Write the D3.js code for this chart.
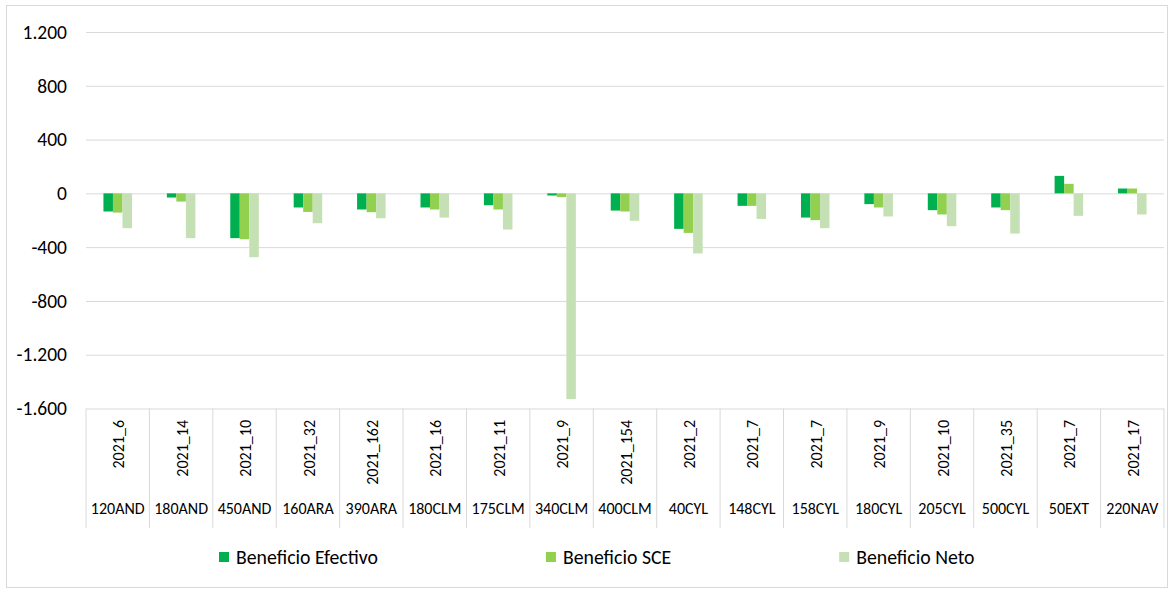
<!DOCTYPE html>
<html>
<head>
<meta charset="utf-8">
<script src="https://cdn.jsdelivr.net/npm/d3@7"></script>
<style>
  body { margin: 0; background: #fff; }
  svg { display: block; font-family: Carlito, Calibri, Lato, sans-serif; }
</style>
</head>
<body>
<div id="viz"></div>
<script>
// Plant names (outer category level) and offer codes (inner level)
const plants = ["120AND", "180AND", "450AND", "160ARA", "390ARA", "180CLM", "175CLM", "340CLM", "400CLM",
  "40CYL", "148CYL", "158CYL", "180CYL", "205CYL", "500CYL", "50EXT", "220NAV"];
const codes = ["2021_6", "2021_14", "2021_10", "2021_32", "2021_162", "2021_16", "2021_11", "2021_9", "2021_154",
  "2021_2", "2021_7", "2021_7", "2021_9", "2021_10", "2021_35", "2021_7", "2021_17"];

const seriesNames = ["Beneficio Efectivo", "Beneficio SCE", "Beneficio Neto"];
const efectivo = [-135, -31, -333, -105, -120, -105, -88, -16, -128, -264, -93, -180, -80, -125, -105, 130, 36];
const sce = [-143, -61, -341, -138, -140, -120, -120, -28, -135, -294, -93, -199, -105, -157, -125, 71, 36];
const neto = [-259, -333, -475, -222, -185, -180, -269, -1530, -204, -447, -190, -259, -172, -244, -299, -167, -157];

const yTicks = [-1600, -1200, -800, -400, 0, 400, 800, 1200];

const COLORS = ["#00B050", "#92D050", "#C5E0B4"];
const WIDTH = 1173, HEIGHT = 589;
const plot = {left: 86, right: 1164, top: 32, bottom: 408.5};

const series = [efectivo, sce, neto];
const rows = plants.map((p, i) => ({i, plant: p, code: codes[i], values: series.map(s => s[i])}));

const fmt = d3.formatLocale({decimal: ",", thousands: ".", grouping: [3], currency: ["", ""], minus: "-"}).format(",d");

const svg = d3.select("#viz").append("svg")
  .attr("width", WIDTH)
  .attr("height", HEIGHT);

// chart frame
svg.append("rect")
  .attr("x", 6.5).attr("y", 5.5)
  .attr("width", 1161).attr("height", 582)
  .attr("fill", "#fff")
  .attr("stroke", "#D9D9D9");

const x0 = d3.scaleBand()
  .domain(rows.map(d => d.i))
  .range([plot.left, plot.right]);

const x1 = d3.scaleBand()
  .domain(d3.range(series.length))
  .range([x0.bandwidth() * 0.275, x0.bandwidth() * 0.725]);

const y = d3.scaleLinear()
  .domain([-1600, 1200])
  .range([plot.bottom, plot.top]);

// gridlines + tick labels
const yAxis = svg.append("g")
  .attr("transform", `translate(${plot.left},0)`)
  .call(d3.axisLeft(y).tickValues(yTicks).tickSize(-(plot.right - plot.left)).tickPadding(19).tickFormat(fmt));
yAxis.select(".domain").remove();
yAxis.selectAll(".tick line").attr("stroke", "#D9D9D9");
yAxis.selectAll(".tick text")
  .attr("fill", "#000")
  .style("font-size", "19.5px")
  .style("font-family", "Carlito, Calibri, Lato, sans-serif");

// bars
const groups = svg.append("g").selectAll("g")
  .data(rows)
  .join("g")
  .attr("transform", d => `translate(${x0(d.i)},0)`);

groups.selectAll("rect")
  .data(d => d.values.map((v, k) => ({k, v})))
  .join("rect")
  .attr("x", d => x1(d.k))
  .attr("width", x1.bandwidth())
  .attr("y", d => y(Math.max(0, d.v)))
  .attr("height", d => Math.abs(y(d.v) - y(0)))
  .attr("fill", d => COLORS[d.k]);

// multi-level category axis
const cat = svg.append("g");
const bounds = rows.map(d => x0(d.i)).concat([plot.right]);
cat.selectAll("line")
  .data(bounds)
  .join("line")
  .attr("x1", d => d).attr("x2", d => d)
  .attr("y1", plot.bottom).attr("y2", 528)
  .attr("stroke", "#D9D9D9");

cat.selectAll("text.code")
  .data(rows)
  .join("text")
  .attr("class", "code")
  .attr("transform", d => `translate(${x0(d.i) + x0.bandwidth() / 2 + 1},420) rotate(-90)`)
  .attr("text-anchor", "end")
  .attr("dy", "0.35em")
  .style("font-size", "16px")
  .text(d => d.code);

cat.selectAll("text.plant")
  .data(rows)
  .join("text")
  .attr("class", "plant")
  .attr("x", d => x0(d.i) + x0.bandwidth() / 2)
  .attr("y", 508)
  .attr("dy", "0.35em")
  .attr("text-anchor", "middle")
  .style("font-size", "16px")
  .text(d => d.plant);

// legend
const legend = svg.append("g").attr("transform", "translate(219,557)");
let lx = 0;
seriesNames.forEach((name, k) => {
  const item = legend.append("g").attr("transform", `translate(${lx},0)`);
  item.append("rect")
    .attr("x", 0).attr("y", -5)
    .attr("width", 10).attr("height", 10)
    .attr("fill", COLORS[k]);
  const t = item.append("text")
    .attr("x", 17)
    .attr("dy", "0.35em")
    .style("font-size", "19.8px")
    .text(name);
  lx += 17 + t.node().getComputedTextLength() + 168;
});
</script>
</body>
</html>
